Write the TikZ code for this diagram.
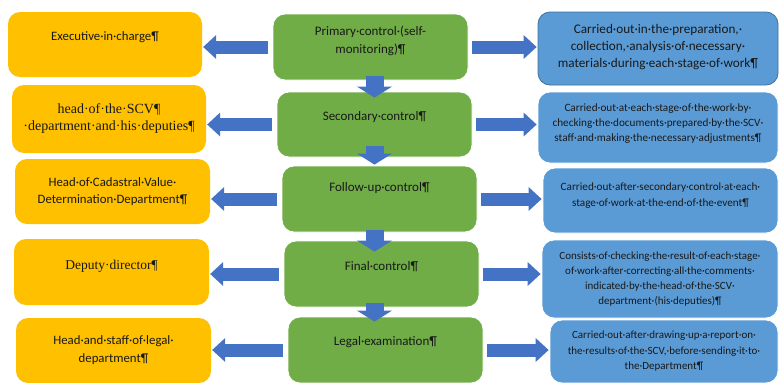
\documentclass[tikz,border=0pt]{standalone}
\usepackage{fontspec}
\setmainfont{Carlito}
\newfontfamily\timesfont{Liberation Serif}
\usetikzlibrary{arrows.meta}

\definecolor{boxorange}{HTML}{FFC000}
\definecolor{boxgreen}{HTML}{70AD47}
\definecolor{boxblue}{HTML}{5B9BD5}
\definecolor{edgeblue}{HTML}{41719C}
\definecolor{arrowblue}{HTML}{4472C4}

\tikzset{
	cbox/.style={rectangle, rounded corners=12pt, inner sep=0pt},
	obox/.style={cbox, fill=boxorange},
	gbox/.style={cbox, fill=boxgreen, draw=white, line width=0.8pt},
	bbox/.style={cbox, fill=boxblue, draw=white, line width=0.8pt},
	txt/.style={align=center, inner sep=0pt, text=black!90},
	otext/.style={txt, font=\fontsize{12.8}{17}\selectfont},
	stext/.style={txt, font=\timesfont\fontsize{14}{17}\selectfont},
	gtext/.style={txt, font=\fontsize{13}{18}\selectfont},
	btext/.style={txt, font=\fontsize{11.2}{15}\selectfont},
	harrow/.style={draw=arrowblue, line width=13pt,
		-{Triangle[width=24pt,length=13pt,line width=0pt]}},
	darrow/.style={draw=arrowblue, line width=18pt,
		-{Triangle[width=35pt,length=11pt,line width=0pt]}},
}

\begin{document}
\begin{tikzpicture}[x=1pt,y=-1pt]
	\useasboundingbox (0,0) rectangle (780,383);

	% who is in charge
	\node[obox, minimum width=194pt, minimum height=65pt] (o1) at (105,44.5) {};
	\node[obox, minimum width=194pt, minimum height=68pt] (o2) at (109,119) {};
	\node[obox, minimum width=195pt, minimum height=65pt] (o3) at (112.5,191.5) {};
	\node[obox, minimum width=195pt, minimum height=66pt] (o4) at (111.5,272) {};
	\node[obox, minimum width=195pt, minimum height=65pt] (o5) at (113.5,350.5) {};

	% control stages
	\node[gbox, minimum width=195pt, minimum height=66pt] (g1) at (370.5,47) {};
	\node[gbox, minimum width=195pt, minimum height=65pt] (g2) at (374.5,124.5) {};
	\node[gbox, minimum width=195pt, minimum height=66pt] (g3) at (379.5,199) {};
	\node[gbox, minimum width=195pt, minimum height=66pt] (g4) at (381.5,274) {};
	\node[gbox, minimum width=195pt, minimum height=66pt] (g5) at (385.5,350) {};

	% what is done
	\node[bbox, draw=edgeblue, minimum width=240pt, minimum height=73pt] (b1) at (658,48.5) {};
	\node[bbox, minimum width=240pt, minimum height=71pt] (b2) at (658,127.5) {};
	\node[bbox, minimum width=235pt, minimum height=65pt] (b3) at (660.5,200.5) {};
	\node[bbox, minimum width=236pt, minimum height=78pt] (b4) at (660,279) {};
	\node[bbox, minimum width=228pt, minimum height=63pt] (b5) at (664,351.5) {};

	\node[otext, yshift=7.5pt] (o1t) at (o1) {Executive·in·charge¶};
	\node[stext, yshift=0.5pt] (o2t) at (o2) {head·of·the·SCV¶\\·department·and·his·deputies¶};
	\node[otext] (o3t) at (o3) {Head·of·Cadastral·Value·\\Determination·Department¶};
	\node[stext, font=\timesfont\fontsize{13.5}{17}\selectfont, yshift=6pt] (o4t) at (o4) {Deputy·director¶};
	\node[otext, font=\fontsize{12.8}{18}\selectfont] (o5t) at (o5) {Head·and·staff·of·legal·\\department¶};

	\node[gtext, yshift=6pt] (g1t) at (g1) {Primary·control·(self-\\monitoring)¶};
	\node[gtext, yshift=7pt] (g2t) at (g2) {Secondary·control¶};
	\node[gtext, yshift=11pt] (g3t) at (g3) {Follow-up·control¶};
	\node[gtext, yshift=7pt] (g4t) at (g4) {Final·control¶};
	\node[gtext, yshift=8pt] (g5t) at (g5) {Legal·examination¶};

	\node[btext, font=\fontsize{13.2}{17}\selectfont, yshift=1.5pt] (b1t) at (b1)
		{Carried·out·in·the·preparation,·\\collection,·analysis·of·necessary·\\materials·during·each·stage·of·work¶};
	\node[btext, yshift=3.5pt] (b2t) at (b2)
		{Carried·out·at·each·stage·of·the·work·by·\\checking·the·documents·prepared·by·the·SCV·\\staff·and·making·the·necessary·adjustments¶};
	\node[btext, font=\fontsize{11.2}{16}\selectfont, yshift=5pt] (b3t) at (b3)
		{Carried·out·after·secondary·control·at·each·\\stage·of·work·at·the·end·of·the·event¶};
	\node[btext, font=\fontsize{11}{15}\selectfont] (b4t) at (b4)
		{Consists·of·checking·the·result·of·each·stage·\\of·work·after·correcting·all·the·comments·\\indicated·by·the·head·of·the·SCV·\\department·(his·deputies)¶};
	\node[btext, font=\fontsize{11}{15.5}\selectfont] (b5t) at (b5)
		{Carried·out·after·drawing·up·a·report·on·\\the·results·of·the·SCV,·before·sending·it·to·\\the·Department¶};

	% arrows
	\foreach \i in {1,...,5} {
		\draw[harrow, shorten <=5pt, shorten >=1pt] (g\i.west) -- (g\i.west -| o\i.east);
		\draw[harrow, shorten <=4pt, shorten >=1pt] (g\i.east) -- (g\i.east -| b\i.west);
	}
	\draw[darrow] ([yshift=4pt]g1.south -| g2.center) -- ([yshift=-6pt]g2.north);
	\draw[darrow] ([yshift=11pt]g2.south) -- ([yshift=1pt]g3.north -| g2.center);
	\draw[darrow] ([yshift=2pt]g3.south -| g2.center) -- ([yshift=-11pt]g4.north -| g2.center);
	\draw[darrow] ([yshift=4pt]g4.south -| g2.center) -- ([yshift=-5pt]g5.north -| g2.center);
\end{tikzpicture}
\end{document}
